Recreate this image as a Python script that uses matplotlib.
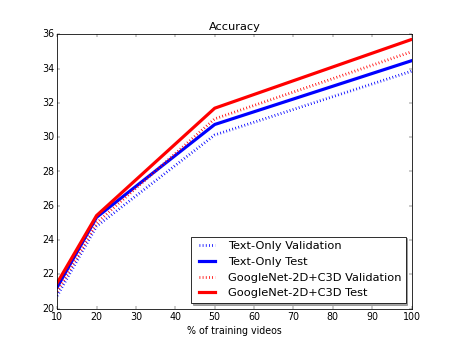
import matplotlib
matplotlib.use("Agg")
import matplotlib.pyplot as plt

plt.style.use("classic")

x = [10, 20, 50, 100]
text_val = [20.75, 24.8, 30.13, 33.85]
text_test = [21.25, 25.33, 30.74, 34.46]
gn_val = [21.0, 25.0, 31.07, 34.98]
gn_test = [21.5, 25.43, 31.69, 35.7]

fig = plt.figure(figsize=(8, 6), dpi=57.17)
ax = fig.add_subplot(111)
ax.plot(x, text_val, color="blue", linestyle=":", linewidth=3.5, label="Text-Only Validation")
ax.plot(x, text_test, color="blue", linestyle="-", linewidth=4, label="Text-Only Test")
ax.plot(x, gn_val, color="red", linestyle=":", linewidth=3.5, label="GoogleNet-2D+C3D Validation")
ax.plot(x, gn_test, color="red", linestyle="-", linewidth=4, label="GoogleNet-2D+C3D Test")
ax.set_xlim(10, 100)
ax.set_ylim(20, 36)
ax.set_title("Accuracy")
ax.set_xlabel("% of training videos")
ax.legend(loc="lower right", shadow=True, fancybox=False)
fig.savefig("out.png", dpi=57.17)
